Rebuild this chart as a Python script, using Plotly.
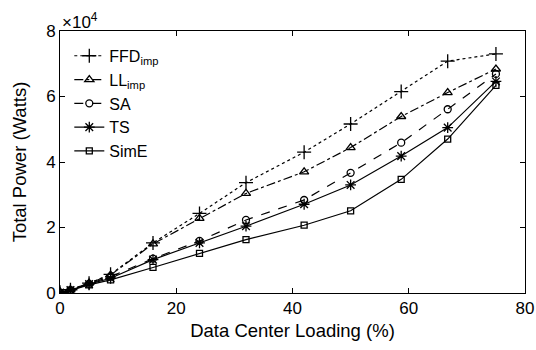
import plotly.graph_objects as go

loading = [0, 1.8, 5, 8.7, 16, 24, 32, 42, 50, 58.7, 66.7, 75]
ffd_imp = [200, 1000, 3000, 5700, 15300, 24300, 33700, 43000, 51600, 61500, 70800, 73000]
ll_imp = [200, 1000, 3000, 5500, 15000, 22800, 30400, 37000, 44400, 53900, 61200, 68400]
sa = [150, 900, 2800, 5000, 10500, 15900, 22300, 28400, 36700, 45900, 56100, 66900]
ts = [150, 900, 2700, 4500, 10200, 15300, 20400, 27100, 33000, 41800, 50500, 64600]
sim_e = [100, 800, 2500, 4000, 7800, 12100, 16300, 20700, 25100, 34700, 47000, 63400]

names = ["FFD<sub>imp</sub>", "LL<sub>imp</sub>", "SA", "TS", "SimE"]
series = [ffd_imp, ll_imp, sa, ts, sim_e]
dashes = ["dot", "dashdot", "dash", "solid", "solid"]
symbols = ["cross-thin-open", "triangle-up-open", "circle-open", "asterisk-open", "square-open"]
sizes = [10, 8, 7, 9, 6]

x_ticks = [0, 20, 40, 60, 80]
y_ticks = [0, 20000, 40000, 60000, 80000]
y_ticktext = ["0", "2", "4", "6", "8"]

font = "Liberation Sans, Arial, sans-serif"
fig = go.Figure()
for n, ys, d, s, sz in zip(names, series, dashes, symbols, sizes):
    fig.add_trace(go.Scatter(
        x=loading, y=ys, name=n, mode="lines+markers",
        line=dict(color="black", width=1.2, dash=d),
        marker=dict(symbol=s, size=sz, color="black", line=dict(color="black", width=1.3)),
    ))

axis_common = dict(
    showline=True, linecolor="black", linewidth=1, mirror="ticks",
    ticks="inside", ticklen=5, tickcolor="black", showgrid=False, zeroline=False,
    automargin=False,
    tickfont=dict(family=font, size=17, color="black"),
)
fig.update_layout(
    width=536, height=350,
    margin=dict(l=60, r=11, t=31, b=57),
    paper_bgcolor="white", plot_bgcolor="white",
    font=dict(family=font, size=17, color="black"),
    xaxis=dict(range=[0, 80], tickvals=x_ticks,
               title=dict(text="Data Center Loading (%)", font=dict(size=18.5), standoff=6),
               **axis_common),
    yaxis=dict(range=[0, 80000], tickvals=y_ticks, ticktext=y_ticktext,
               title=dict(text="Total Power (Watts)", font=dict(size=18.5), standoff=14),
               **axis_common),
    legend=dict(x=0.02, y=0.97, xanchor="left", yanchor="top",
                bgcolor="rgba(0,0,0,0)", font=dict(size=16), tracegroupgap=0,
                itemwidth=30),
    showlegend=True,
    annotations=[dict(text="×10<sup>4</sup>", xref="paper", yref="paper", x=0, y=1.0,
                      xanchor="left", yanchor="bottom", showarrow=False, yshift=-3,
                      font=dict(size=17, family=font))],
)
fig.write_html("out.html", config={"displayModeBar": False},
               post_script="document.body.style.margin='0px';")
